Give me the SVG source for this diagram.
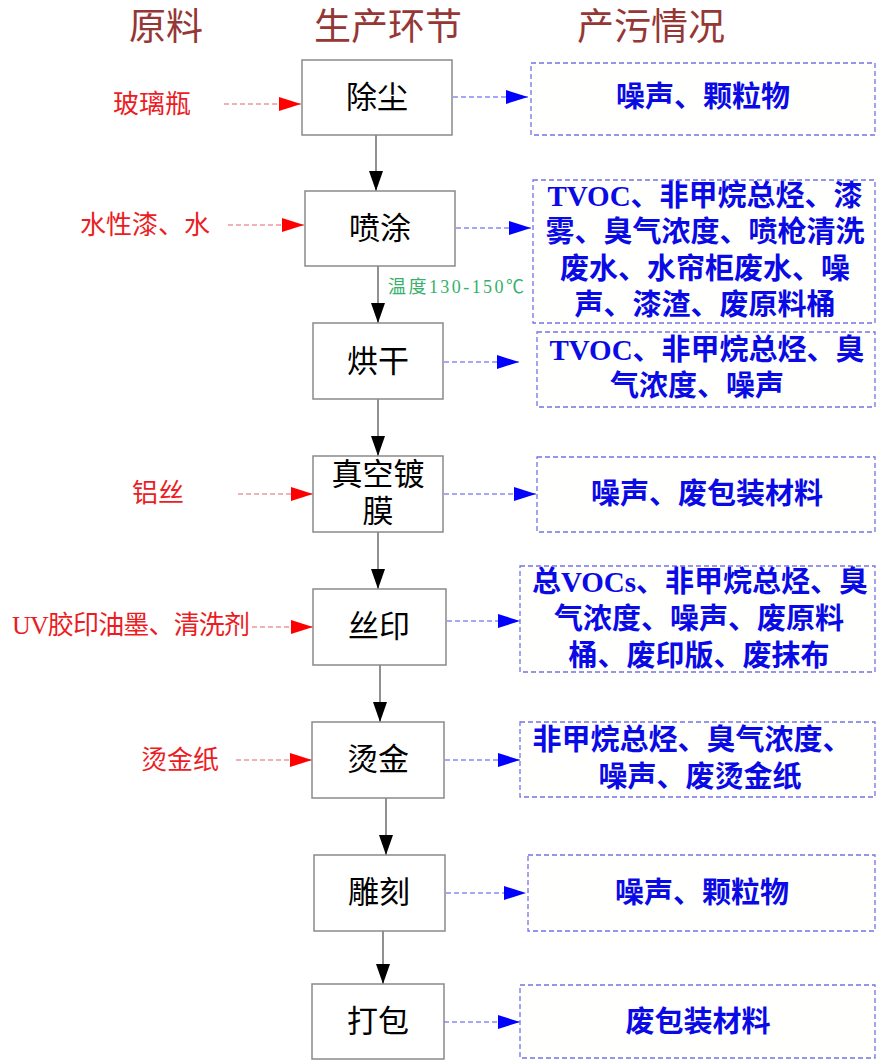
<svg xmlns="http://www.w3.org/2000/svg" width="876" height="1060" viewBox="0 0 876 1060">
<style>
.hdr{font-family:"Liberation Serif","Noto Sans CJK SC",serif;font-size:37px;fill:#953735;text-anchor:middle;dominant-baseline:central}
.box{fill:#fff;stroke:#8a8a8a;stroke-width:1.5}
.ntx{font-family:"Liberation Serif","Noto Sans CJK SC",serif;font-size:31px;fill:#000;text-anchor:middle;dominant-baseline:central}
.pol{fill:#fffffd;stroke:#7373e6;stroke-width:1.3;stroke-dasharray:5 3}
.ptx{font-family:"Liberation Serif","Noto Sans CJK SC",serif;font-size:29px;font-weight:bold;fill:#0a0ae6;text-anchor:middle;dominant-baseline:central}
.rtx{font-family:"Liberation Serif","Noto Sans CJK SC",serif;font-size:26px;fill:#ec1c24;text-anchor:middle;dominant-baseline:central}
.gtx{font-family:"Liberation Serif","Noto Sans CJK SC",serif;font-size:18px;fill:#36b06a;dominant-baseline:central}
.flow{stroke:#555;stroke-width:1.3;fill:none;marker-end:url(#ab)}
.inp{stroke:#e8646e;stroke-width:1.2;stroke-dasharray:5 3;fill:none;marker-end:url(#ar)}
.out{stroke:#5050ee;stroke-width:1.2;stroke-dasharray:5 3;fill:none;marker-end:url(#au)}
</style>
<defs>
<marker id="ab" markerUnits="userSpaceOnUse" markerWidth="22" markerHeight="16" refX="20" refY="7" orient="auto" viewBox="0 0 22 16"><path d="M0,0 L20,7 L0,14 Z" fill="#000"/></marker>
<marker id="ar" markerUnits="userSpaceOnUse" markerWidth="24" markerHeight="16" refX="22" refY="7" orient="auto" viewBox="0 0 24 16"><path d="M0,0 L22,7 L0,14 Z" fill="#ff0000"/></marker>
<marker id="au" markerUnits="userSpaceOnUse" markerWidth="24" markerHeight="16" refX="22" refY="7" orient="auto" viewBox="0 0 24 16"><path d="M0,0 L22,7 L0,14 Z" fill="#0000ff"/></marker>
</defs>
<rect width="876" height="1060" fill="#fff"/>

<g id="headers">
<text class="hdr" x="166" y="27">原料</text>
<text class="hdr" x="388" y="27">生产环节</text>
<text class="hdr" x="651" y="27">产污情况</text>
</g>

<g id="connectors">
<path class="flow" d="M376,135 V191"/>
<path class="flow" d="M378,265 V323"/>
<path class="flow" d="M378,399 V456"/>
<path class="flow" d="M378,532 V589"/>
<path class="flow" d="M380,665 V722"/>
<path class="flow" d="M386,798 V855"/>
<path class="flow" d="M383,931 V984"/>
<path class="inp" d="M224,104 H301"/>
<path class="inp" d="M228,225 H304"/>
<path class="inp" d="M238,494 H313"/>
<path class="inp" d="M252,627 H313"/>
<path class="inp" d="M236,760 H312"/>
<path class="out" d="M453,97 H528"/>
<path class="out" d="M456,228 H531"/>
<path class="out" d="M444,362 H519"/>
<path class="out" d="M444,494 H536"/>
<path class="out" d="M447,621 H520"/>
<path class="out" d="M445,760 H520"/>
<path class="out" d="M446,893 H526"/>
<path class="out" d="M444,1022 H520"/>
<text class="gtx" x="388" y="287" textLength="136">温度130-150℃</text>
</g>

<g id="inputs">
<text class="rtx" x="152" y="104">玻璃瓶</text>
<text class="rtx" x="145" y="225">水性漆、水</text>
<text class="rtx" x="158" y="493">铝丝</text>
<text class="rtx" x="131" y="625" textLength="238">UV胶印油墨、清洗剂</text>
<text class="rtx" x="180" y="760">烫金纸</text>
</g>

<g id="n1"><rect class="box" x="302" y="60" width="150" height="75"/><text class="ntx" x="377" y="97">除尘</text></g>
<g id="n2"><rect class="box" x="305" y="191" width="150" height="75"/><text class="ntx" x="380" y="228">喷涂</text></g>
<g id="n3"><rect class="box" x="313" y="323" width="130" height="76"/><text class="ntx" x="378" y="361">烘干</text></g>
<g id="n4"><rect class="box" x="313" y="456" width="130" height="76"/><text class="ntx" x="378" y="474">真空镀</text><text class="ntx" x="378" y="511">膜</text></g>
<g id="n5"><rect class="box" x="313" y="589" width="133" height="76"/><text class="ntx" x="379" y="626">丝印</text></g>
<g id="n6"><rect class="box" x="312" y="722" width="132" height="76"/><text class="ntx" x="378" y="759">烫金</text></g>
<g id="n7"><rect class="box" x="314" y="855" width="131" height="76"/><text class="ntx" x="379" y="892">雕刻</text></g>
<g id="n8"><rect class="box" x="312" y="984" width="132" height="75"/><text class="ntx" x="378" y="1021">打包</text></g>

<g id="p1"><rect class="pol" x="531" y="63" width="344" height="72"/><text class="ptx" x="703" y="97">噪声、颗粒物</text></g>
<g id="p2"><rect class="pol" x="533" y="180" width="342" height="143"/>
<text class="ptx" x="705" y="196">TVOC、非甲烷总烃、漆</text>
<text class="ptx" x="705" y="232">雾、臭气浓度、喷枪清洗</text>
<text class="ptx" x="705" y="269">废水、水帘柜废水、噪</text>
<text class="ptx" x="705" y="305">声、漆渣、废原料桶</text></g>
<g id="p3"><rect class="pol" x="537" y="332" width="338" height="75"/>
<text class="ptx" x="707" y="350">TVOC、非甲烷总烃、臭</text>
<text class="ptx" x="697" y="386">气浓度、噪声</text></g>
<g id="p4"><rect class="pol" x="537" y="457" width="338" height="75"/><text class="ptx" x="707" y="494">噪声、废包装材料</text></g>
<g id="p5"><rect class="pol" x="520" y="566" width="355" height="106"/>
<text class="ptx" x="700" y="582">总VOCs、非甲烷总烃、臭</text>
<text class="ptx" x="699" y="619">气浓度、噪声、废原料</text>
<text class="ptx" x="699" y="656">桶、废印版、废抹布</text></g>
<g id="p6"><rect class="pol" x="520" y="722" width="355" height="75"/>
<text class="ptx" x="692" y="740">非甲烷总烃、臭气浓度、</text>
<text class="ptx" x="700" y="777">噪声、废烫金纸</text></g>
<g id="p7"><rect class="pol" x="528" y="855" width="347" height="76"/><text class="ptx" x="702" y="893">噪声、颗粒物</text></g>
<g id="p8"><rect class="pol" x="520" y="985" width="355" height="73"/><text class="ptx" x="698" y="1022">废包装材料</text></g>
</svg>
